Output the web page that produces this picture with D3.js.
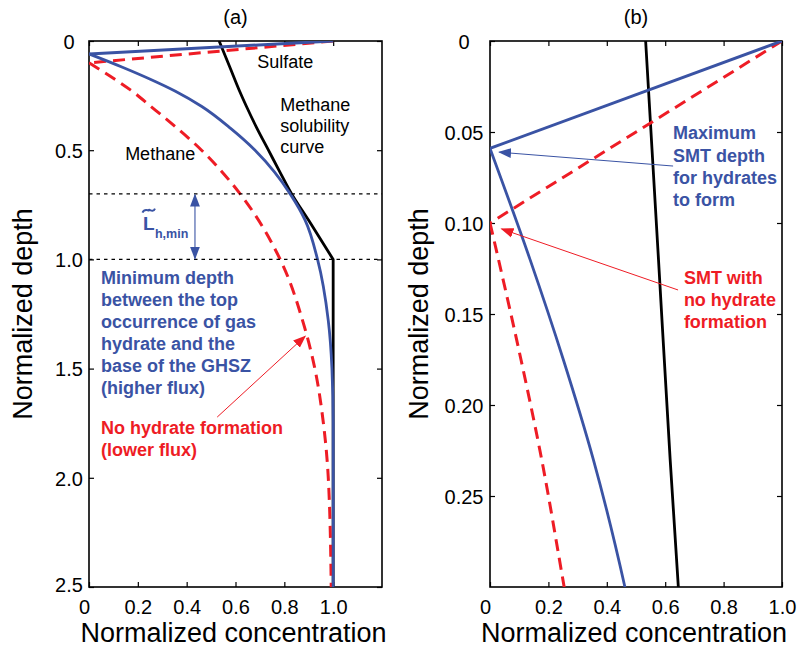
<!DOCTYPE html>
<html>
<head>
<meta charset="utf-8">
<script src="https://cdn.jsdelivr.net/npm/d3@7"></script>
<style>
  html, body { margin: 0; padding: 0; background: #fff; }
  svg { display: block; font-family: "Liberation Sans", Arial, Helvetica, sans-serif; }
</style>
</head>
<body>
<svg id="chart" width="798" height="650"></svg>
<script>
// ---------------- DATA ----------------
// Methane solubility curve (black): curved part down to the base of the GHSZ, then constant
const solubilityDepth = [0, 0.12, 0.23, 0.3, 0.4, 0.5, 0.6, 0.7, 0.82, 1.0, 2.5];
const solubilityConc  = [0.533, 0.577, 0.617, 0.645, 0.688, 0.735, 0.782, 0.83, 0.899, 1.0, 1.0];
const ghszBaseDepth = 1.0;

// Higher flux (hydrate forms) - blue solid
const hydSulfateDepth = [0, 0.059];
const hydSulfateConc  = [1.0, 0];
const hydMethaneDepth = [0.059, 0.12, 0.175, 0.23, 0.3, 0.4, 0.5, 0.6, 0.7, 0.82, 1.0, 1.28, 1.5, 1.75, 2.5];
const hydMethaneConc  = [0, 0.137, 0.251, 0.354, 0.462, 0.58, 0.68, 0.76, 0.824, 0.885, 0.936, 0.98, 0.995, 1.0, 1.0];

// Lower flux (no hydrate) - red dashed
const noHydSulfateDepth = [0, 0.1];
const noHydSulfateConc  = [1.0, 0];
const noHydMethaneDepth = [0.1, 0.12, 0.175, 0.225, 0.3, 0.5, 0.7, 1.0, 1.3, 1.5, 1.75, 2.0, 2.5];
const noHydMethaneConc  = [0, 0.029, 0.106, 0.171, 0.254, 0.461, 0.619, 0.783, 0.88, 0.925, 0.96, 0.98, 0.992];

// Horizontal reference depths in panel (a)
const refDepths = [0.7, 1.0];

// Ticks
const concTicksA  = [0, 0.2, 0.4, 0.6, 0.8, 1.0];
const concLabelsA = ["0", "0.2", "0.4", "0.6", "0.8", "1.0"];
const depthTicksA  = [0, 0.5, 1.0, 1.5, 2.0, 2.5];
const depthLabelsA = ["0", "0.5", "1.0", "1.5", "2.0", "2.5"];
const concTicksB  = [0, 0.2, 0.4, 0.6, 0.8, 1.0];
const concLabelsB = ["0", "0.2", "0.4", "0.6", "0.8", "1.0"];
const depthTicksB  = [0, 0.05, 0.10, 0.15, 0.20, 0.25];
const depthLabelsB = ["0", "0.05", "0.10", "0.15", "0.20", "0.25"];

// ---------------- STYLE ----------------
const BLUE = "#3a53a4";
const RED = "#ee1c25";
const BLACK = "#000";

const svg = d3.select("#chart");
const defs = svg.append("defs");

const zip = (ds, cs) => ds.map((d, i) => ({ d: d, c: cs[i] }));

function panel(cfg) {
  const g = svg.append("g");
  const x = d3.scaleLinear().domain(cfg.xDomain).range([cfg.left, cfg.right]);
  const y = d3.scaleLinear().domain(cfg.yDomain).range([cfg.top, cfg.bottom]);

  const clipId = "clip" + cfg.name;
  defs.append("clipPath").attr("id", clipId)
    .append("rect").attr("x", cfg.left).attr("y", cfg.top)
    .attr("width", cfg.right - cfg.left).attr("height", cfg.bottom - cfg.top);

  const fmt = (ticks, labels) => (v) => labels[ticks.findIndex(t => Math.abs(t - v) < 1e-9)];
  const tl = 5;
  const xb = g.append("g").attr("transform", `translate(0,${cfg.bottom})`)
    .call(d3.axisBottom(x).tickValues(cfg.xTicks).tickFormat(fmt(cfg.xTicks, cfg.xLabels))
      .tickSizeInner(-tl).tickSizeOuter(0));
  const xt = g.append("g").attr("transform", `translate(0,${cfg.top})`)
    .call(d3.axisTop(x).tickValues(cfg.xTicks).tickFormat("").tickSizeInner(-tl).tickSizeOuter(0));
  const yl = g.append("g").attr("transform", `translate(${cfg.left},0)`)
    .call(d3.axisLeft(y).tickValues(cfg.yTicks).tickFormat(fmt(cfg.yTicks, cfg.yLabels))
      .tickSizeInner(-tl).tickSizeOuter(0));
  const yr = g.append("g").attr("transform", `translate(${cfg.right},0)`)
    .call(d3.axisRight(y).tickValues(cfg.yTicks).tickFormat("").tickSizeInner(-tl).tickSizeOuter(0));
  [xb, xt, yl, yr].forEach(a => {
    a.select(".domain").remove();
    a.selectAll("line").attr("stroke", BLACK).attr("stroke-width", 1.2);
    a.selectAll("text").attr("fill", BLACK).style("font-size", "20px")
      .style("font-family", "'Liberation Sans', Arial, sans-serif");
  });
  xb.selectAll("text").attr("y", 13).attr("dy", "0.71em");
  xb.selectAll(".tick").filter(v => v === 0).select("text").attr("dx", -5);
  yl.selectAll("text").attr("text-anchor", "middle").attr("x", -cfg.yLabelOffset).attr("dy", "0.36em");
  yl.selectAll(".tick").filter(v => v === cfg.yDomain[1]).select("text").attr("dy", "0.2em");

  g.append("rect").attr("x", cfg.left).attr("y", cfg.top)
    .attr("width", cfg.right - cfg.left).attr("height", cfg.bottom - cfg.top)
    .attr("fill", "none").attr("stroke", BLACK).attr("stroke-width", 1.6);

  g.append("text").attr("x", (cfg.left + cfg.right) / 2).attr("y", 17).attr("dy", "0.36em")
    .attr("text-anchor", "middle").style("font-size", "20px").text(cfg.title);

  g.append("text").attr("x", (cfg.left + cfg.right) / 2 - 2).attr("y", 632).attr("dy", "0.36em")
    .attr("text-anchor", "middle").style("font-size", "27px").text("Normalized concentration");
  g.append("text").attr("transform", `translate(${cfg.yTitleX},${(cfg.top + cfg.bottom) / 2}) rotate(-90)`)
    .attr("text-anchor", "middle").style("font-size", "27px").text("Normalized depth");

  const plot = g.append("g").attr("clip-path", `url(#${clipId})`);
  const lineLin = d3.line().x(p => x(p.c)).y(p => y(p.d));
  const lineMono = d3.line().x(p => x(p.c)).y(p => y(p.d)).curve(d3.curveMonotoneY);

  return { g, plot, x, y, lineLin, lineMono };
}

const A = panel({
  name: "A", left: 89, right: 382, top: 41, bottom: 587,
  xDomain: [0, 1.2], yDomain: [0, 2.5],
  xTicks: concTicksA, xLabels: concLabelsA, yTicks: depthTicksA, yLabels: depthLabelsA,
  yLabelOffset: 20, title: "(a)", yTitleX: 32
});
const B = panel({
  name: "B", left: 490, right: 782, top: 41, bottom: 587,
  xDomain: [0, 1.0], yDomain: [0, 0.3],
  xTicks: concTicksB, xLabels: concLabelsB, yTicks: depthTicksB, yLabels: depthLabelsB,
  yLabelOffset: 26, title: "(b)", yTitleX: 428
});

function marker(id, color, size) {
  defs.append("marker").attr("id", id).attr("viewBox", "0 0 10 10")
    .attr("refX", 9).attr("refY", 5).attr("markerWidth", size).attr("markerHeight", size)
    .attr("markerUnits", "userSpaceOnUse").attr("orient", "auto-start-reverse")
    .append("path").attr("d", "M0,1.2 L10,5 L0,8.8 Z").attr("fill", color);
}
marker("arrBlue", BLUE, 13);
marker("arrRed", RED, 13);

function drawCurves(P) {
  const sol = zip(solubilityDepth, solubilityConc);
  const upper = sol.filter(p => p.d <= ghszBaseDepth);
  const lower = sol.filter(p => p.d >= ghszBaseDepth);
  P.plot.append("path").attr("d", P.lineMono(upper) + P.lineLin(lower).replace(/^M/, "L"))
    .attr("fill", "none").attr("stroke", BLACK).attr("stroke-width", 2.8).attr("stroke-linejoin", "miter");
  P.plot.append("path").datum(zip(noHydSulfateDepth, noHydSulfateConc)).attr("d", P.lineLin)
    .attr("fill", "none").attr("stroke", RED).attr("stroke-width", 3).attr("stroke-dasharray", "12,7");
  P.plot.append("path").datum(zip(noHydMethaneDepth, noHydMethaneConc)).attr("d", P.lineMono)
    .attr("fill", "none").attr("stroke", RED).attr("stroke-width", 3).attr("stroke-dasharray", "12,7");
  P.plot.append("path").datum(zip(hydSulfateDepth, hydSulfateConc)).attr("d", P.lineLin)
    .attr("fill", "none").attr("stroke", BLUE).attr("stroke-width", 3);
  P.plot.append("path").datum(zip(hydMethaneDepth, hydMethaneConc)).attr("d", P.lineMono)
    .attr("fill", "none").attr("stroke", BLUE).attr("stroke-width", 2.8);
}

A.g.selectAll(".ref").data(refDepths).enter().append("line")
  .attr("x1", A.x(0)).attr("x2", A.x(1.2)).attr("y1", d => A.y(d)).attr("y2", d => A.y(d))
  .attr("stroke", BLACK).attr("stroke-width", 1.3).attr("stroke-dasharray", "3.5,4");

drawCurves(A);
drawCurves(B);

function multiText(P, lines, xv, yv, step, opts) {
  const t = P.g.append("text").attr("x", P.x(xv)).attr("y", P.y(yv))
    .attr("fill", opts.color).style("font-size", opts.size + "px")
    .style("font-weight", opts.bold ? "bold" : "normal");
  lines.forEach((s, i) => {
    t.append("tspan").attr("x", P.x(xv)).attr("y", P.y(yv) + i * step).attr("dy", "0.36em").text(s);
  });
  return t;
}
multiText(A, ["Sulfate"], 0.689, 0.096, 0, { color: BLACK, size: 18 });
multiText(A, ["Methane"], 0.148, 0.513, 0, { color: BLACK, size: 18 });
multiText(A, ["Methane", "solubility", "curve"], 0.783, 0.293, 21, { color: BLACK, size: 18 });
multiText(A, ["Minimum depth", "between the top", "occurrence of gas", "hydrate and the",
  "base of the GHSZ", "(higher flux)"], 0.049, 1.081, 22, { color: BLUE, size: 18, bold: true });
multiText(A, ["No hydrate formation", "(lower flux)"], 0.049, 1.772, 22, { color: RED, size: 18, bold: true });

// L~ h,min label
const Lx = A.x(0.221), Ly = A.y(0.836);
A.g.append("text").attr("x", Lx).attr("y", Ly).attr("dy", "0.36em")
  .attr("fill", BLUE).style("font-size", "19px").style("font-weight", "bold").text("L");
A.g.append("path")
  .attr("d", `M${Lx - 0.5},${Ly - 11} C${Lx + 2},${Ly - 16} ${Lx + 6},${Ly - 12} ${Lx + 6},${Ly - 13.5} S${Lx + 10},${Ly - 10} ${Lx + 12},${Ly - 15}`)
  .attr("fill", "none").attr("stroke", BLUE).attr("stroke-width", 2);
A.g.append("text").attr("x", Lx + 12).attr("y", Ly + 10).attr("dy", "0.36em")
  .attr("fill", BLUE).style("font-size", "12.5px").style("font-weight", "bold").text("h,min");

A.g.append("line").attr("x1", A.x(0.434)).attr("x2", A.x(0.434))
  .attr("y1", A.y(refDepths[0]) + 1).attr("y2", A.y(refDepths[1]) - 1)
  .attr("stroke", BLUE).attr("stroke-width", 1.1)
  .attr("marker-start", "url(#arrBlue)").attr("marker-end", "url(#arrBlue)");

A.g.append("line").attr("x1", A.x(0.525)).attr("y1", A.y(1.722)).attr("x2", A.x(0.885)).attr("y2", A.y(1.352))
  .attr("stroke", RED).attr("stroke-width", 1).attr("marker-end", "url(#arrRed)");

multiText(B, ["Maximum", "SMT depth", "for hydrates", "to form"], 0.627, 0.0505, 22.3, { color: BLUE, size: 18, bold: true });
multiText(B, ["SMT with", "no hydrate", "formation"], 0.664, 0.1302, 22, { color: RED, size: 18, bold: true });

B.g.append("line").attr("x1", B.x(0.627)).attr("y1", B.y(0.0687)).attr("x2", B.x(0.032)).attr("y2", B.y(0.0611))
  .attr("stroke", BLUE).attr("stroke-width", 1).attr("marker-end", "url(#arrBlue)");
B.g.append("line").attr("x1", B.x(0.644)).attr("y1", B.y(0.1368)).attr("x2", B.x(0.04)).attr("y2", B.y(0.1033))
  .attr("stroke", RED).attr("stroke-width", 1).attr("marker-end", "url(#arrRed)");
</script>
</body>
</html>
